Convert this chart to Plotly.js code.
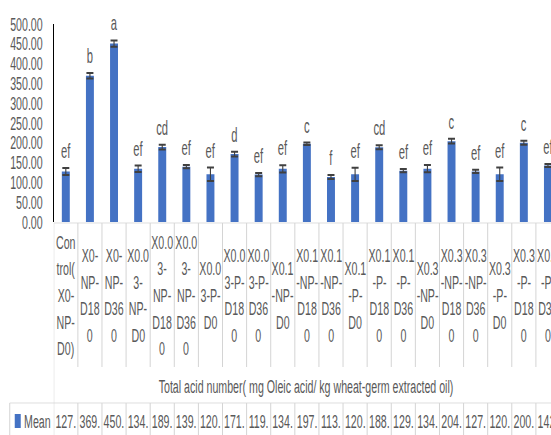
<!DOCTYPE html>
<html>
<head>
<meta charset="utf-8">
<script src="https://cdn.plot.ly/plotly-3.0.1.min.js"></script>
<style>
html,body{margin:0;padding:0;width:551px;height:435px;overflow:hidden;background:#fff;}
</style>
</head>
<body>
<div id="wrap"><div id="chart"></div></div>
<script>
// ---- data ----
const categories = ["Control(X0-NP-D0)","X0-NP-D180","X0-NP-D360","X0.03-NP-D0","X0.03-NP-D180","X0.03-NP-D360","X0.03-P-D0","X0.03-P-D180","X0.03-P-D360","X0.1-NP-D0","X0.1-NP-D180","X0.1-NP-D360","X0.1-P-D0","X0.1-P-D180","X0.1-P-D360","X0.3-NP-D0","X0.3-NP-D180","X0.3-NP-D360","X0.3-P-D0","X0.3-P-D180","X0.3-P-D360"];
const tickLabels = ["Con<br>trol(<br>X0-<br>NP-<br>D0)","X0-<br>NP-<br>D18<br>0","X0-<br>NP-<br>D36<br>0","X0.0<br>3-<br>NP-<br>D0","X0.0<br>3-<br>NP-<br>D18<br>0","X0.0<br>3-<br>NP-<br>D36<br>0","X0.0<br>3-P-<br>D0","X0.0<br>3-P-<br>D18<br>0","X0.0<br>3-P-<br>D36<br>0","X0.1<br>-NP-<br>D0","X0.1<br>-NP-<br>D18<br>0","X0.1<br>-NP-<br>D36<br>0","X0.1<br>-P-<br>D0","X0.1<br>-P-<br>D18<br>0","X0.1<br>-P-<br>D36<br>0","X0.3<br>-NP-<br>D0","X0.3<br>-NP-<br>D18<br>0","X0.3<br>-NP-<br>D36<br>0","X0.3<br>-P-<br>D0","X0.3<br>-P-<br>D18<br>0","X0.3<br>-P-<br>D36<br>0"];
const meanValues = [127.4,369.2,450.6,134.5,189.3,139.8,120.4,171.6,119.7,134.2,197.5,113.8,120.3,188.9,129.6,134.7,204.1,127.8,120.5,200.2,142.6];
const errValues = [9,7,8,8,6,4,17,6,4,9,3,5,17,5,4,9,6,4,17,5,4];
const sigLetters = ["ef","b","a","ef","cd","ef","ef","d","ef","ef","c","f","ef","cd","ef","ef","c","ef","ef","c","ef"];
const seriesName = "Mean";
const xTitle = "Total acid number( mg Oleic acid/ kg wheat-germ extracted oil)";

// ---- layout helpers (screen pixels; the drawing is condensed horizontally like the source) ----
const S = 0.56;                        // horizontal condensation factor
const PL = 54, PW = 506;               // plot left / width in screen px
const PLOT_TOP = 24, PLOT_BOTTOM = 222, PLOT_H = PLOT_BOTTOM - PLOT_TOP;
const W = Math.ceil((PL + PW + 4) / S), H = 435;
const FONT = "Liberation Sans, Arial, sans-serif";
const TXT = "#595959";
const GRID = "#d4d4d4";
const FS = 19;
const yp = p => (PLOT_BOTTOM - p) / PLOT_H;   // screen row -> paper y
const xp = s => (s - PL) / PW;                // screen column -> paper x
const VW = 1 / S;                              // vertical line width (unscaled)

const wrap = document.getElementById('wrap');
wrap.style.cssText = `width:${W}px;height:${H}px;transform:scaleX(${S});transform-origin:0 0;`;
document.getElementById('chart').style.cssText = `width:${W}px;height:${H}px;`;

const n = categories.length;
const shapes = [];
const annotations = [];

shapes.push({type:'line', xref:'x', yref:'paper', x0:-0.5, x1:n-0.5, y0:yp(223), y1:yp(223), line:{color:GRID, width:1}});
shapes.push({type:'line', xref:'x', yref:'paper', x0:-0.5, x1:-0.5, y0:yp(223), y1:yp(445), line:{color:GRID, width:VW}});
for (let i = 0; i < n; i++) {
  const xb = i + 0.5;
  shapes.push({type:'line', xref:'x', yref:'paper', x0:xb, x1:xb, y0:yp(223), y1:yp(367), line:{color:GRID, width:VW}});
  shapes.push({type:'line', xref:'x', yref:'paper', x0:xb, x1:xb, y0:yp(403), y1:yp(445), line:{color:GRID, width:VW}});
}
shapes.push({type:'line', xref:'paper', yref:'paper', x0:xp(10), x1:1, y0:yp(403), y1:yp(403), line:{color:GRID, width:1}});
shapes.push({type:'line', xref:'paper', yref:'paper', x0:xp(10), x1:xp(10), y0:yp(403), y1:yp(445), line:{color:GRID, width:VW}});
shapes.push({type:'rect', xref:'paper', yref:'paper', x0:xp(15), x1:xp(21), y0:yp(428), y1:yp(414), line:{width:0}, fillcolor:'#4472C4'});

tickLabels.forEach((lab, i) => {
  const lines = lab.split('<br>');
  const m = lines.length;
  lines.forEach((t, j) => {
    const yc = 295.5 + (j - (m - 1) / 2) * 26.7;
    annotations.push({xref:'x', yref:'paper', x:i, y:yp(yc), text:t, showarrow:false,
      xanchor:'center', yanchor:'middle', font:{family:FONT, size:FS, color:TXT}});
  });
});
annotations.push({xref:'paper', yref:'paper', x:xp(306), y:yp(386), text:xTitle, showarrow:false,
  xanchor:'center', yanchor:'middle', font:{family:FONT, size:FS, color:TXT}});
annotations.push({xref:'paper', yref:'paper', x:xp(23), y:yp(421), text:seriesName, showarrow:false,
  xanchor:'left', yanchor:'middle', font:{family:FONT, size:FS, color:TXT}});
meanValues.forEach((v, i) => {
  annotations.push({xref:'x', yref:'paper', x:i, y:yp(421), text:Math.floor(v) + '.', showarrow:false,
    xanchor:'center', yanchor:'middle', font:{family:FONT, size:FS, color:TXT}});
});
meanValues.forEach((v, i) => {
  annotations.push({xref:'x', yref:'y', x:i, y:v + errValues[i], text:sigLetters[i], showarrow:false,
    xanchor:'center', yanchor:'bottom', yshift:4, font:{family:FONT, size:20, color:TXT}});
});

const trace = {
  type:'bar', x:categories, y:meanValues, name:seriesName,
  marker:{color:'#4472C4'},
  error_y:{type:'data', array:errValues, visible:true, color:'#404040', thickness:2, width:3.5 / S},
  hoverinfo:'skip'
};

const layout = {
  width:W, height:H,
  margin:{l:PL / S, r:W - (PL + PW) / S, t:PLOT_TOP, b:H - PLOT_BOTTOM},
  paper_bgcolor:'#ffffff', plot_bgcolor:'#ffffff',
  showlegend:false,
  bargap:0.67,
  xaxis:{type:'category', range:[-0.5, n-0.5], showticklabels:false, showline:false, showgrid:false, zeroline:false, ticks:'', fixedrange:true},
  yaxis:{range:[0,500], dtick:50, tickformat:'.2f', showline:true, linecolor:'#000000', linewidth:2,
    showgrid:false, zeroline:false, ticks:'', ticklabelstandoff:14,
    tickfont:{family:FONT, size:FS, color:TXT}, fixedrange:true},
  shapes:shapes, annotations:annotations
};

Plotly.newPlot('chart', [trace], layout, {displayModeBar:false, staticPlot:true});
</script>
</body>
</html>
